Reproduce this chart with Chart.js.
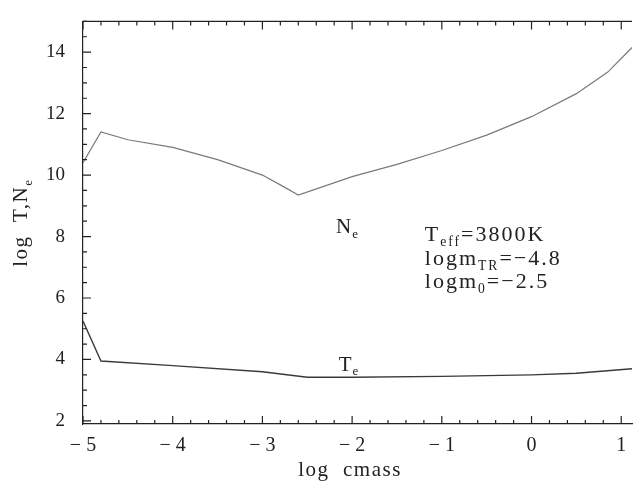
<!DOCTYPE html>
<html>
<head>
<meta charset="utf-8">
<script src="https://cdn.jsdelivr.net/npm/chart.js@4.4.0/dist/chart.umd.min.js"></script>
<style>
  html, body { margin: 0; background: #fff; }
  #wrap { width: 634px; height: 491px; }
</style>
</head>
<body>
<div id="wrap"><canvas id="myChart"></canvas></div>
<script>
// electron density curve
const neX = [-5, -4.8, -4.5, -4, -3.5, -3, -2.75, -2.6, -2.3, -2, -1.5, -1, -0.5, 0, 0.5, 0.85, 1.12]
const neY = [10.4, 11.4, 11.15, 10.9, 10.5, 10.0, 9.6, 9.35, 9.65, 9.95, 10.35, 10.8, 11.3, 11.9, 12.65, 13.35, 14.15]
// electron temperature curve
const teX = [-5, -4.8, -4, -3, -2.5, -2, -1, 0, 0.5, 1.12]
const teY = [5.25, 3.95, 3.8, 3.6, 3.42, 3.42, 3.45, 3.5, 3.55, 3.7]

const xTicks = [-5, -4, -3, -2, -1, 0, 1]
const yTicks = [2, 4, 6, 8, 10, 12, 14]

const FONT = '"Liberation Serif", "DejaVu Serif", serif'
const INK = '#222'

function pts(xs, ys) {
  return xs.map(function (x, i) { return { x: x, y: ys[i] } })
}

// draw text made of [string, isSub] parts starting at x,y (baseline)
function richText(ctx, parts, x, y, size) {
  var cx = x
  parts.forEach(function (p) {
    var s = p[1] ? size * 0.62 : size
    ctx.font = s + 'px ' + FONT
    ctx.fillText(p[0], cx, p[1] ? y + size * 0.22 : y)
    cx += ctx.measureText(p[0]).width
  })
  return cx - x
}
function richWidth(ctx, parts, size) {
  var w = 0
  parts.forEach(function (p) {
    ctx.font = (p[1] ? size * 0.62 : size) + 'px ' + FONT
    w += ctx.measureText(p[0]).width
  })
  return w
}

const frame = {
  id: 'frame',
  afterDraw: function (chart) {
    var ctx = chart.ctx, a = chart.chartArea
    var xs = chart.scales.x, ys = chart.scales.y
    ctx.save()
    ctx.strokeStyle = INK
    ctx.lineWidth = 1.2
    // top border
    ctx.beginPath()
    ctx.moveTo(a.left, a.top); ctx.lineTo(a.right, a.top)
    ctx.stroke()
    // x ticks (inside), top and bottom
    ctx.beginPath()
    for (var v = -5; v <= 1.12 + 1e-9; v += 0.2) {
      var px = xs.getPixelForValue(v)
      var major = Math.abs(v - Math.round(v)) < 1e-6
      var len = major ? 8 : 4
      ctx.moveTo(px, a.bottom); ctx.lineTo(px, a.bottom - len)
      ctx.moveTo(px, a.top); ctx.lineTo(px, a.top + len)
    }
    // y ticks (inside), left
    for (var w = 2; w <= 15; w += 0.5) {
      var py = ys.getPixelForValue(w)
      var maj = Math.abs(w / 2 - Math.round(w / 2)) < 1e-6
      ctx.moveTo(a.left, py); ctx.lineTo(a.left + (maj ? 8 : 4), py)
    }
    ctx.stroke()

    ctx.fillStyle = INK
    ctx.textBaseline = 'alphabetic'
    ctx.textAlign = 'left'
    ctx.letterSpacing = '1px'
    // curve labels
    richText(ctx, [['N', 0], ['e', 1]], xs.getPixelForValue(-2.18), ys.getPixelForValue(8.1), 21)
    richText(ctx, [['T', 0], ['e', 1]], xs.getPixelForValue(-2.15), ys.getPixelForValue(3.63), 21)
    // model parameters
    ctx.letterSpacing = '2px'
    var bx = xs.getPixelForValue(-1.19)
    richText(ctx, [['T', 0], ['eff', 1], ['=3800K', 0]], bx, ys.getPixelForValue(7.84), 22)
    richText(ctx, [['logm', 0], ['TR', 1], ['=\u22124.8', 0]], bx, ys.getPixelForValue(7.08), 22)
    richText(ctx, [['logm', 0], ['0', 1], ['=\u22122.5', 0]], bx, ys.getPixelForValue(6.31), 22)

    // axis titles
    ctx.letterSpacing = '1.5px'
    ctx.font = '21px ' + FONT
    ctx.textAlign = 'center'
    ctx.fillText('log  cmass', 350, 476)
    ctx.textAlign = 'left'
    var yt = [['log  T,N', 0], ['e', 1]]
    ctx.translate(27, (a.top + a.bottom) / 2)
    ctx.rotate(-Math.PI / 2)
    richText(ctx, yt, -richWidth(ctx, yt, 21) / 2, 0, 21)
    ctx.restore()
  }
}

var ctx = document.getElementById('myChart')
const config = {
  type: 'scatter',
  data: {
    datasets: [{
      label: 'Ne',
      data: pts(neX, neY),
      showLine: true,
      borderColor: '#7a7a7a',
      borderWidth: 1.2,
      pointRadius: 0,
      tension: 0
    }, {
      label: 'Te',
      data: pts(teX, teY),
      showLine: true,
      borderColor: '#3a3a3a',
      borderWidth: 1.4,
      pointRadius: 0,
      tension: 0
    }]
  },
  options: {
    responsive: true,
    maintainAspectRatio: false,
    animation: false,
    layout: { padding: { top: 14, right: 2, left: 0, bottom: 0 } },
    scales: {
      x: {
        type: 'linear',
        min: -5,
        max: 1.12,
        afterBuildTicks: function (s) { s.ticks = xTicks.map(function (v) { return { value: v } }) },
        afterFit: function (s) { s.height = 67 },
        grid: { display: false },
        border: { display: true, color: INK, width: 1.2 },
        ticks: {
          color: INK,
          padding: 2,
          maxRotation: 0,
          font: { family: FONT, size: 20 },
          callback: function (v) { return String(v).replace('-', '\u2212 ') }
        }
      },
      y: {
        min: 1.9,
        max: 15,
        afterBuildTicks: function (s) { s.ticks = yTicks.map(function (v) { return { value: v } }) },
        afterFit: function (s) { s.width = 83 },
        grid: { display: false },
        border: { display: true, color: INK, width: 1.2 },
        ticks: {
          color: INK,
          padding: 10,
          font: { family: FONT, size: 19 }
        }
      }
    },
    plugins: {
      legend: { display: false },
      tooltip: { enabled: false }
    }
  },
  plugins: [frame]
}
var lineChart = new Chart(ctx, config)
</script>
</body>
</html>
